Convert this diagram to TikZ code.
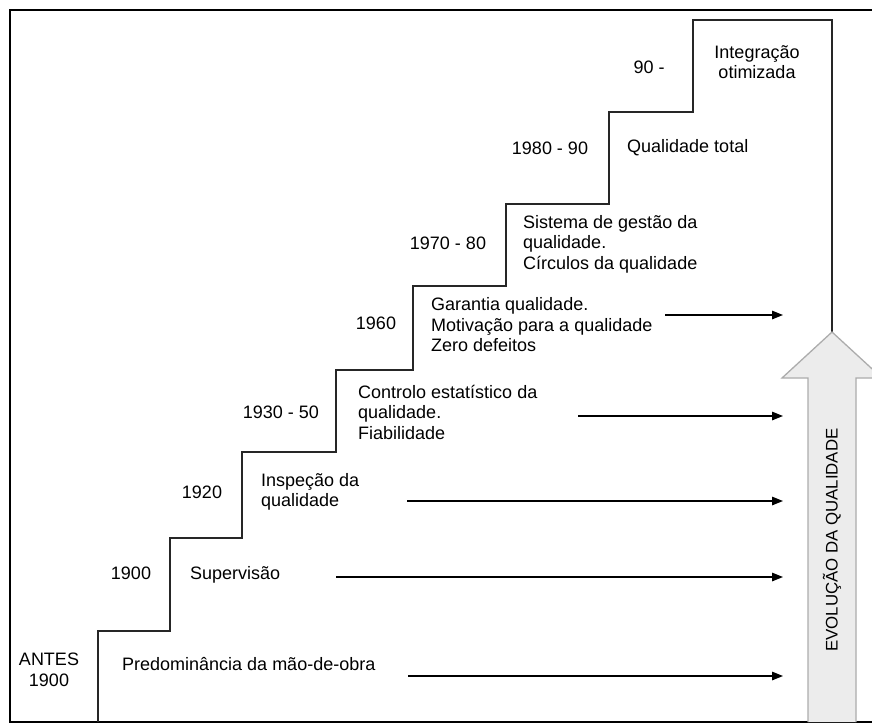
\documentclass[tikz,border=0pt]{standalone}
\usepackage{fontspec}
\setmainfont{Liberation Sans}
\usetikzlibrary{arrows.meta}
\begin{document}
\begin{tikzpicture}[x=1pt,y=-1pt,
	year/.style={font=\fontsize{18}{20.5}\selectfont, align=center, inner sep=0pt},
	desc/.style={font=\fontsize{18}{20.5}\selectfont, align=left, anchor=west, inner sep=0pt},
	arrow/.style={line width=1.4pt, -{Triangle[length=11pt,width=8.5pt]}}]
	\useasboundingbox (0,0) rectangle (872,724);
	
	\draw [line width=2pt] (872,10) -- (9.5,10) -- (9.5,722) -- (872,722);
	\draw [line width=1.3pt, black!85] (98,722) |- (170,631) |- (242,538) |- (336,452) |- (413,370) |- (506,286) |- (609,204) |- (693,112) |- (832,20) -- (832,332);
	
	% big arrow
	\draw [fill=gray!15, draw=gray!65, line width=1.3pt] (808,722) -- (808,378) -- (782,378) -- (832,332) -- (882,378) -- (856,378) -- (856,722);
	\node (evol) [font=\fontsize{16.8}{19}\selectfont, rotate=90, inner sep=0pt] at (832,540) {EVOLUÇÃO DA QUALIDADE};
	
	\node (y0) [year] at (49,670) {ANTES\\1900};
	\node (d0) [desc] at (122,664) {Predominância da mão-de-obra};
	\node (y1) [year] at (131,573) {1900};
	\node (d1) [desc] at (190,575) {Supervisão};
	\node (y2) [year] at (202,492) {1920};
	\node (d2) [desc] at (261,492) {Inspeção da\\qualidade};
	\node (y3) [year] at (281,412) {1930 - 50};
	\node (d3) [desc] at (358,412) {Controlo estatístico da\\qualidade.\\Fiabilidade};
	\node (y4) [year] at (376,323) {1960};
	\node (d4) [desc] at (431,325) {Garantia qualidade.\\Motivação para a qualidade\\Zero defeitos};
	\node (y5) [year] at (448,243) {1970 - 80};
	\node (d5) [desc] at (523,244) {Sistema de gestão da\\qualidade.\\Círculos da qualidade};
	\node (y6) [year] at (550,148) {1980 - 90};
	\node (d6) [desc] at (627,148) {Qualidade total};
	\node (y7) [year] at (649,67) {90 -};
	\node (d7) [year] at (757,62) {Integração\\otimizada};
	
	\coordinate (s0) at (408,676); \coordinate (e0) at (783,676);
	\coordinate (s1) at (336,577); \coordinate (e1) at (783,577);
	\coordinate (s2) at (407,501); \coordinate (e2) at (783,501);
	\coordinate (s3) at (578,416); \coordinate (e3) at (783,416);
	\coordinate (s4) at (665,315); \coordinate (e4) at (783,315);
	\foreach \i in {0,...,4}
		\draw [arrow] (s\i) -- (e\i);
\end{tikzpicture}
\end{document}
